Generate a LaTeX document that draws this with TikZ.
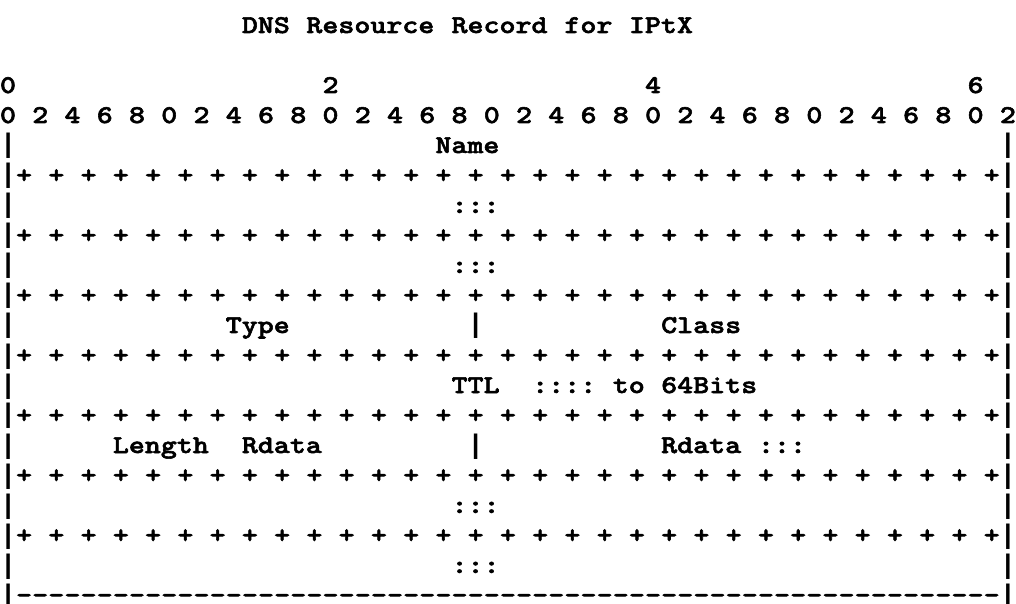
\documentclass[tikz,border=0pt]{standalone}
\usepackage{fontspec}
\newfontfamily\asciifont[FakeStretch=1.19,FakeBold=2.2]{lmmonolt10-bold.otf}
\newfontfamily\barfont{Liberation Mono}
\begin{document}
\begin{tikzpicture}[x=16.127pt,y=30pt,
  ch/.style={anchor=base west,inner sep=0pt,outer sep=0pt,text=black,
    font=\asciifont\fontsize{25.6}{30}\selectfont},
  bar/.style={anchor=base west,inner sep=0pt,outer sep=0pt,text=black,
    font=\barfont\bfseries\fontsize{26.9}{30}\selectfont}]
\useasboundingbox[fill=white] (0,0) rectangle (63,-20.133);
% title (row 0)
\node[ch] (t1) at (15,-1.1) {DNS};
\node[ch] (t2) at (19,-1.1) {Resource};
\node[ch] (t3) at (28,-1.1) {Record};
\node[ch] (t4) at (35,-1.1) {for};
\node[ch] (t5) at (39,-1.1) {IPtX};
% header tens (row 2)
\node[ch] (h0) at (0,-3.1) {0};
\node[ch] (h2) at (20,-3.1) {2};
\node[ch] (h4) at (40,-3.1) {4};
\node[ch] (h6) at (60,-3.1) {6};
% header units (row 3)
\foreach \c in {0,2,...,62}{
  \pgfmathtruncatemacro\d{mod(\c,10)}
  \node[ch] (u\c) at (\c,-4.1) {\d};
}
% side bars rows 4..19
\foreach \r in {4,...,19}{
  \node[bar] (l\r) at (0,{-1.1-\r}) {|};
  \node[bar] (r\r) at (62,{-1.1-\r}) {|};
}
% plus rows
\foreach \r in {5,7,9,11,13,15,17}{
  \foreach \c in {1,3,...,61}{
    \node[ch] (p\r-\c) at (\c,{-1.1-\r}) {+};
  }
}
% bottom dashes
\foreach \c in {1,...,61}{
  \node[ch] (d\c) at (\c,-20.1) {-};
}
% field labels
\node[ch] (name) at (27,-5.1) {Name};
\node[ch] (c6) at (28,-7.1) {:::};
\node[ch] (c8) at (28,-9.1) {:::};
\node[ch] (type) at (14,-11.1) {Type};
\node[bar] (sep10) at (29,-11.1) {|};
\node[ch] (class) at (41,-11.1) {Class};
\node[ch] (ttl) at (28,-13.1) {TTL};
\node[ch] (ttlc) at (33,-13.1) {::::};
\node[ch] (ttlto) at (38,-13.1) {to};
\node[ch] (ttlb) at (41,-13.1) {64Bits};
\node[ch] (len) at (7,-15.1) {Length};
\node[ch] (rd1) at (15,-15.1) {Rdata};
\node[bar] (sep14) at (29,-15.1) {|};
\node[ch] (rd2) at (41,-15.1) {Rdata};
\node[ch] (rd2c) at (47,-15.1) {:::};
\node[ch] (c16) at (28,-17.1) {:::};
\node[ch] (c18) at (28,-19.1) {:::};
\end{tikzpicture}
\end{document}
